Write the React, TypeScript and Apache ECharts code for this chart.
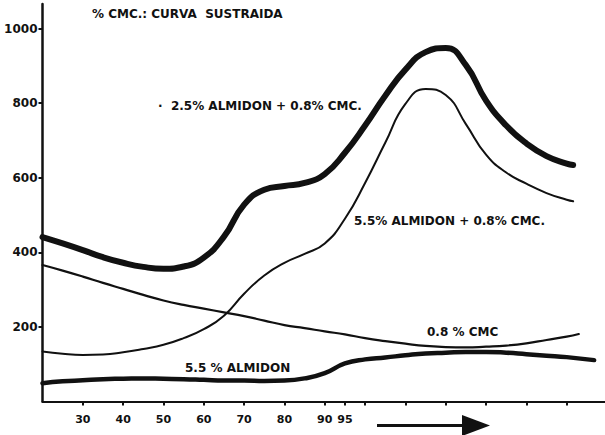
import React, { useEffect, useRef } from "react";
import * as echarts from "echarts";

// Temperature / time steps (°C up to 95, then held) shared by all curves
const steps = [
  20, 25, 30, 35, 40, 45, 50, 55, 60, 65, 70, 75, 80, 85, 90, 95, 100, 105,
  110, 115, 120, 125, 130, 135, 140, 145, 150,
];

// 2.5% almidón + 0.8% CMC (thick upper curve)
const mixLowStarch = [
  441, 424, 406, 387, 372, 361, 356, 362, 386, 442, 528, 568, 578, 586, 610,
  667, 740, 820, 890, 937, 948, 902, 807, 740, 692, 658, 638,
];
const mixLowStarchEnd: [number, number] = [151.6, 634];

// 5.5% almidón + 0.8% CMC (thin curve)
const mixHighStarch = [
  134, 128, 125, 126, 132, 141, 152, 170, 194, 230, 289, 338, 372, 396, 424,
  490, 586, 694, 798, 838, 822, 744, 662, 614, 584, 559, 541,
];
const mixHighStarchEnd: [number, number] = [151.6, 537];

// 0.8% CMC alone
const cmcOnly = [
  366, 351, 335, 318, 302, 286, 271, 259, 249, 239, 229, 217, 205, 197, 188,
  180, 170, 162, 155, 149, 146, 145, 147, 150, 156, 165, 174,
];
const cmcOnlyEnd: [number, number] = [153, 181];

// 5.5% almidón alone (thick lower curve)
const starchOnly = [
  49, 54, 57, 60, 61, 62, 61, 60, 58, 56, 56, 55, 56, 62, 76, 102, 113, 118,
  124, 129, 131, 133, 133, 131, 127, 123, 119,
];
const starchOnlyEnd: [number, number] = [156.8, 111];

const xLabelValues = [30, 40, 50, 60, 70, 80, 90, 95];
const xTickValues = [30, 40, 50, 60, 70, 80, 90, 95, 100, 110, 120, 130, 140, 150];
const yTickValues = [200, 400, 600, 800, 1000];

const pairs = (ys: number[], end: [number, number]) =>
  [...steps.map((x, i) => [x, ys[i]]), end];

const INK = "#111";
const FONT = "DejaVu Sans";

export default function App() {
  const ref = useRef<HTMLDivElement>(null);

  useEffect(() => {
    if (!ref.current) return;
    const chart = echarts.init(ref.current, null, { renderer: "svg" });

    const lineSeries = (name: string, data: number[][], width: number) => ({
      name,
      type: "line",
      data,
      smooth: 0.5,
      showSymbol: false,
      lineStyle: { color: INK, width, cap: "round", join: "round" },
      z: 3,
    });

    const label = (text: string, x: number, y: number) => ({
      type: "text",
      x,
      y,
      style: {
        text,
        fill: INK,
        font: `bold 12px "${FONT}"`,
        textVerticalAlign: "middle",
      },
      z: 10,
    });

    chart.setOption({
      animation: false,
      backgroundColor: "#fff",
      grid: { left: 42.5, right: 0, top: 4, bottom: 33.5 },
      xAxis: {
        type: "value",
        min: 20,
        max: 159.5,
        axisLine: { show: true, lineStyle: { color: INK, width: 2 } },
        axisTick: {
          show: true,
          customValues: xTickValues,
          length: 4,
          lineStyle: { color: INK, width: 2 },
        },
        axisLabel: {
          customValues: xLabelValues,
          color: INK,
          fontFamily: FONT,
          fontWeight: "bold",
          fontSize: 11,
          margin: 12,
        },
        splitLine: { show: false },
      },
      yAxis: {
        type: "value",
        min: 0,
        max: 1066,
        axisLine: { show: true, lineStyle: { color: INK, width: 2.5 } },
        axisTick: {
          show: true,
          customValues: yTickValues,
          length: 4,
          lineStyle: { color: INK, width: 2 },
        },
        axisLabel: {
          customValues: yTickValues,
          formatter: (v: number) => String(v),
          color: INK,
          fontFamily: FONT,
          fontWeight: "bold",
          fontSize: 12,
          margin: 5,
        },
        splitLine: { show: false },
      },
      series: [
        lineSeries("2.5% ALMIDON + 0.8% CMC", pairs(mixLowStarch, mixLowStarchEnd), 6),
        lineSeries("5.5% ALMIDON + 0.8% CMC", pairs(mixHighStarch, mixHighStarchEnd), 2),
        lineSeries("0.8% CMC", pairs(cmcOnly, cmcOnlyEnd), 2.2),
        lineSeries("5.5% ALMIDON", pairs(starchOnly, starchOnlyEnd), 4.5),
      ],
      graphic: [
        label("% CMC.: CURVA  SUSTRAIDA", 92, 14),
        label("·  2.5% ALMIDON + 0.8% CMC.", 158, 106),
        label("5.5% ALMIDON + 0.8% CMC.", 354, 221),
        label("0.8 % CMC", 427, 332),
        label("5.5 % ALMIDON", 185, 368),
        {
          type: "line",
          shape: { x1: 377, y1: 425.5, x2: 466, y2: 425.5 },
          style: { stroke: INK, lineWidth: 3 },
        },
        {
          type: "polygon",
          shape: {
            points: [
              [462, 415],
              [490, 425.5],
              [462, 436],
            ],
          },
          style: { fill: INK },
        },
      ],
    });

    return () => chart.dispose();
  }, []);

  return (
    <div
      ref={ref}
      style={{ position: "absolute", left: 0, top: 0, width: 605, height: 435 }}
    />
  );
}
